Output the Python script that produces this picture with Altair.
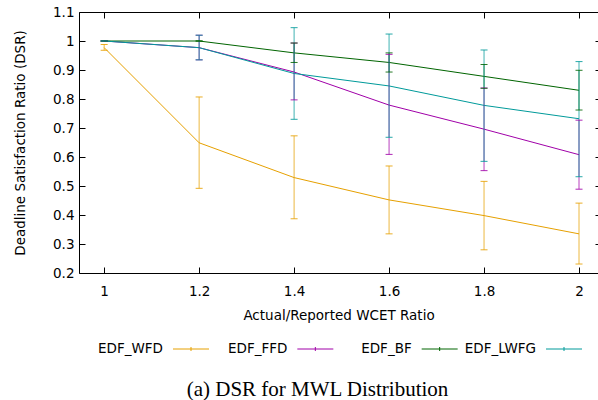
import altair as alt
import pandas as pd

ratios = [1.0, 1.2, 1.4, 1.6, 1.8, 2.0]
series_names = ["EDF_WFD", "EDF_FFD", "EDF_BF", "EDF_LWFG"]
series_colors = ["#e6a000", "#a000a8", "#006400", "#009a9a"]

wfd_mean = [0.977, 0.649, 0.529, 0.452, 0.398, 0.335]
wfd_lo = [0.968, 0.492, 0.387, 0.335, 0.280, 0.231]
wfd_hi = [0.988, 0.807, 0.673, 0.569, 0.516, 0.441]

ffd_mean = [1.000, 0.977, 0.893, 0.779, 0.696, 0.608]
ffd_lo = [1.000, 0.935, 0.797, 0.609, 0.553, 0.489]
ffd_hi = [1.000, 1.020, 0.993, 0.954, 0.838, 0.727]

bf_mean = [1.000, 1.000, 0.959, 0.926, 0.878, 0.830]
bf_lo = [1.000, 1.000, 0.926, 0.893, 0.837, 0.762]
bf_hi = [1.000, 1.000, 0.993, 0.959, 0.919, 0.899]

lwfg_mean = [1.000, 0.977, 0.888, 0.845, 0.778, 0.732]
lwfg_lo = [1.000, 0.935, 0.730, 0.668, 0.585, 0.532]
lwfg_hi = [1.000, 1.020, 1.046, 1.024, 0.969, 0.929]

y_ticks = [0.2, 0.3, 0.4, 0.5, 0.6, 0.7, 0.8, 0.9, 1.0, 1.1]

x_title = "Actual/Reported WCET Ratio"
y_title = "Deadline Satisfaction Ratio (DSR)"
caption = "(a) DSR for MWL Distribution"

means = [wfd_mean, ffd_mean, bf_mean, lwfg_mean]
lows = [wfd_lo, ffd_lo, bf_lo, lwfg_lo]
highs = [wfd_hi, ffd_hi, bf_hi, lwfg_hi]

rows = []
for name, m, lo, hi in zip(series_names, means, lows, highs):
    for x, a, b, c in zip(ratios, m, lo, hi):
        rows.append({"series": name, "ratio": x, "dsr": a, "lo": b, "hi": c})
df = pd.DataFrame(rows)
legend_df = pd.DataFrame({"series": series_names, "idx": list(range(len(series_names)))})

FONT = "DejaVu Sans"
FS = 13.5

xs = alt.Scale(domain=[0.947, 2.04], nice=False, zero=False)
ys = alt.Scale(domain=[0.2, 1.1], nice=False, zero=False)
color = alt.Color("series:N", scale=alt.Scale(domain=series_names, range=series_colors), legend=None)

common = dict(grid=False, labelFont=FONT, labelFontSize=FS, labelColor="black",
              titleFont=FONT, titleFontSize=FS, titleFontWeight="normal", titleColor="black",
              domainColor="black", domainWidth=1, tickColor="black", tickWidth=1)

x_main = alt.Axis(orient="bottom", values=ratios, format="~g", ticks=False, domain=True,
                  labelPadding=11, labelFlush=False, title=x_title, titleY=46,
                  titleBaseline="alphabetic", **common)
y_main = alt.Axis(orient="left", values=y_ticks, format="~g", ticks=False, domain=True,
                  labelPadding=5, labelFlush=False, title=y_title, titleX=-55, titleY=130.5,
                  titleAngle=270, titleBaseline="alphabetic", titleAlign="center", **common)
x_tick_b = alt.Axis(orient="bottom", values=ratios, labels=False, domain=False, ticks=True,
                    tickSize=6, offset=-6, title=None, **common)
y_tick_l = alt.Axis(orient="left", values=y_ticks, labels=False, domain=False, ticks=True,
                    tickSize=6, offset=-6, title=None, **common)
x_top_dom = alt.Axis(orient="top", values=ratios, labels=False, domain=True, ticks=False,
                     title=None, **common)
y_right = alt.Axis(orient="right", values=y_ticks, labels=False, domain=False, ticks=True,
                   tickSize=3, offset=-3, title=None, **common)
x_top_tick = alt.Axis(orient="top", values=ratios, labels=False, domain=False, ticks=True,
                      tickSize=6, offset=-6, title=None, **common)

base = alt.Chart(df)

lines = base.mark_line(strokeWidth=1).encode(
    x=alt.X("ratio:Q", scale=xs, axis=x_main),
    y=alt.Y("dsr:Q", scale=ys, axis=y_main),
    color=color,
)
bars = base.mark_rule(strokeWidth=1, opacity=0.75).encode(
    x=alt.X("ratio:Q", scale=xs, axis=x_tick_b),
    y=alt.Y("lo:Q", scale=ys, axis=y_tick_l),
    y2="hi:Q",
    color=color,
)
caps_hi = base.mark_tick(orient="horizontal", size=7, thickness=1, opacity=0.85).encode(
    x=alt.X("ratio:Q", scale=xs, axis=x_top_dom),
    y=alt.Y("hi:Q", scale=ys, axis=y_right),
    color=color,
)
caps_lo = base.mark_tick(orient="horizontal", size=7, thickness=1, opacity=0.85).encode(
    x=alt.X("ratio:Q", scale=xs, axis=x_top_tick),
    y=alt.Y("lo:Q", scale=ys, axis=None),
    color=color,
)

main = alt.layer(lines, bars, caps_hi, caps_lo).resolve_axis(x="independent", y="independent")

leg_x = alt.X("idx:Q", scale=alt.Scale(domain=[0, 3], range=[84, 457]), axis=None)
leg_base = alt.Chart(legend_df)
leg_text = leg_base.mark_text(align="right", baseline="middle", font=FONT, fontSize=FS,
                              color="black").encode(x=leg_x, y=alt.value(337), text="series:N")
leg_line = leg_base.mark_rule(strokeWidth=1, xOffset=10, x2Offset=46).encode(
    x=leg_x, x2="idx:Q", y=alt.value(337), color=color)
leg_tick = leg_base.mark_rule(strokeWidth=1, xOffset=28, x2Offset=28).encode(
    x=leg_x, x2="idx:Q", y=alt.value(335), y2=alt.value(339), color=color)
legend = alt.layer(leg_text, leg_line, leg_tick)

chart = alt.layer(main, legend).resolve_scale(x="independent").properties(
    width=519, height=261,
    padding={"left": 79, "top": 12, "right": 0, "bottom": 127},
    autosize="none",
    background="white",
    title=alt.TitleParams(caption, orient="bottom", font="Liberation Serif", fontSize=21,
                          fontWeight="normal", color="black", anchor="middle", frame="group",
                          dx=-21, offset=23),
).configure_view(stroke=None)

chart.save("out.html", embed_options={"renderer": "svg", "actions": False})
